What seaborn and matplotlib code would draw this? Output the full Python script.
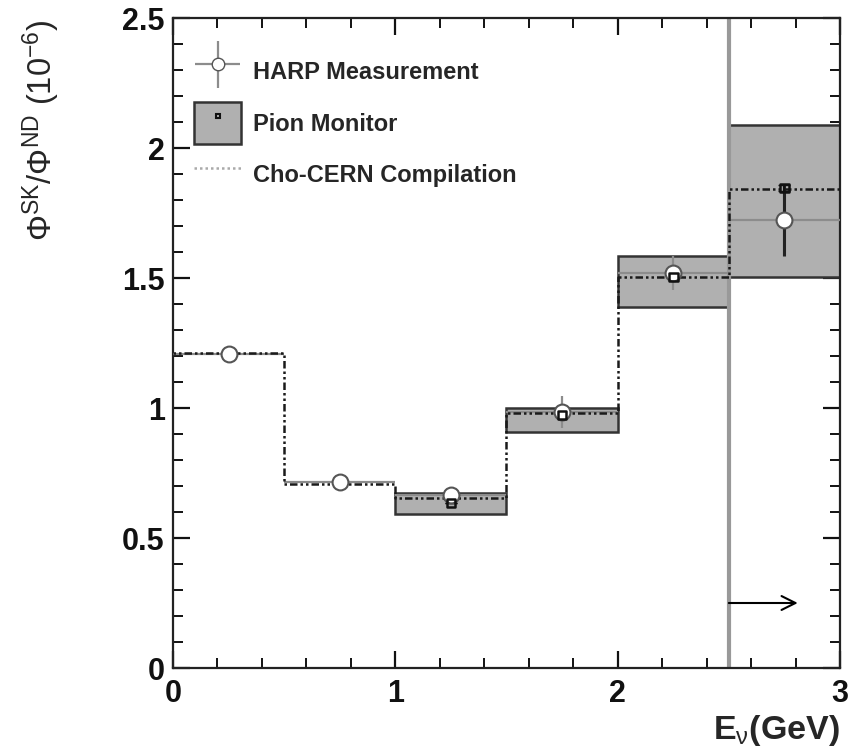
import numpy as np
import matplotlib
matplotlib.use("Agg")
import matplotlib.pyplot as plt
import seaborn as sns
from matplotlib.lines import Line2D
from matplotlib.patches import Patch
from matplotlib.legend_handler import HandlerErrorbar
from matplotlib.container import ErrorbarContainer

# ---------------- data ----------------
bin_edges = [0.0, 0.5, 1.0, 1.5, 2.0, 2.5, 3.0]
bin_centers = [0.25, 0.75, 1.25, 1.75, 2.25, 2.75]

harp_values = [1.208, 0.715, 0.665, 0.985, 1.520, 1.723]
harp_errors = [0.010, 0.010, 0.020, 0.060, 0.065, 0.140]

cho_cern_values = [1.210, 0.708, 0.654, 0.980, 1.504, 1.842]

pion_centers = [1.25, 1.75, 2.25, 2.75]
pion_values = [0.635, 0.973, 1.504, 1.846]
pion_errors = [0.0, 0.0, 0.0, 0.012]
pion_box_low = [0.592, 0.908, 1.388, 1.504]
pion_box_high = [0.673, 1.000, 1.585, 2.088]

cut_energy = 2.5
arrow_y = 0.25
arrow_end = 2.81

# ---------------- style ----------------
sns.set_style("ticks")
plt.rcParams['font.family'] = ['Liberation Sans', 'DejaVu Sans']
plt.rcParams['mathtext.fontset'] = 'custom'
plt.rcParams['mathtext.rm'] = 'Liberation Sans'
plt.rcParams['mathtext.it'] = 'Liberation Sans'
plt.rcParams['mathtext.bf'] = 'Liberation Sans:bold'

fig = plt.figure(figsize=(8.54, 7.54), dpi=100)
ax = fig.add_axes([173 / 854, (754 - 668) / 754, (840 - 173) / 854, (668 - 18) / 754])

# Pion monitor boxes
box_widths = [0.5] * len(pion_centers)
box_heights = [h - l for h, l in zip(pion_box_high, pion_box_low)]
ax.bar(pion_centers, box_heights, width=box_widths, bottom=pion_box_low,
       color='#b0b0b0', edgecolor='#333333', linewidth=1.8, zorder=1)

# cut line
ax.axvline(cut_energy, color='#999999', lw=3, zorder=2)

# Cho-CERN compilation step line
step_x = bin_edges
step_y = cho_cern_values + [cho_cern_values[-1]]
sns.lineplot(x=step_x, y=step_y, ax=ax, drawstyle='steps-post', color='#1a1a1a',
             lw=1.8, linestyle=(0, (1, 1.2, 1, 1.2, 3, 1.2)), zorder=4, sort=False,
             estimator=None)

# HARP measurement (grey bars + open circle)
ax.errorbar(bin_centers, harp_values, xerr=0.25, yerr=harp_errors, fmt='none',
            ecolor='#8c8c8c', elinewidth=1.6, zorder=3)
ax.errorbar([bin_centers[-1]], [harp_values[-1]], yerr=[harp_errors[-1]], fmt='none',
            ecolor='#222222', elinewidth=2.2, zorder=3)
sns.scatterplot(x=bin_centers, y=harp_values, ax=ax, marker='o', s=130,
                facecolor='white', edgecolor='#555555', linewidth=1.5, zorder=6)

# Pion monitor markers
ax.errorbar(pion_centers, pion_values, yerr=pion_errors, fmt='none', ecolor='#111111',
            elinewidth=1.5, capsize=4, zorder=5)
sns.scatterplot(x=pion_centers, y=pion_values, ax=ax, marker='s', s=40,
                facecolor='none', edgecolor='#111111', linewidth=1.8, zorder=7)

# arrow
ax.annotate('', xy=(arrow_end, arrow_y), xytext=(cut_energy, arrow_y),
            arrowprops=dict(arrowstyle='->', color='black', lw=1.5,
                            mutation_scale=25, shrinkA=0, shrinkB=0), zorder=8)

# axes
ax.set_xlim(0, 3)
ax.set_ylim(0, 2.5)
ax.set_xticks([0, 1, 2, 3])
ax.set_xticks(np.arange(0, 3.01, 0.2), minor=True)
ax.set_yticks([0, 0.5, 1, 1.5, 2, 2.5])
ax.set_yticks(np.arange(0, 2.51, 0.1), minor=True)
ax.set_xticklabels(['0', '1', '2', '3'])
ax.set_yticklabels(['0', '0.5', '1', '1.5', '2', '2.5'])
ax.tick_params(which='both', direction='in', top=True, right=True, colors='#111111')
ax.tick_params(which='major', length=12, width=1.6, labelsize=22)
ax.tick_params(axis='y', which='major', pad=6)
ax.tick_params(axis='x', which='major', pad=8)
ax.tick_params(which='minor', length=7, width=1.4)
for lab in ax.get_xticklabels() + ax.get_yticklabels():
    lab.set_fontweight('bold')
for sp in ax.spines.values():
    sp.set_linewidth(1.6)
    sp.set_color('#222222')

ax.set_xlabel(r'E$_{\nu}$(GeV)', fontsize=24.5, fontweight='bold', loc='right')
ax.xaxis.set_label_coords(1.0, -0.07)
ax.set_ylabel(r'$\Phi^{SK}/\Phi^{ND}$ (10$^{-6}$)', fontsize=23.5, loc='top')
ax.yaxis.set_label_coords(-0.166, 0.997)

# legend
harp_handle = ax.errorbar([], [], xerr=[], yerr=[], fmt='o', ms=9, mfc='white',
                          mec='#555555', ecolor='#8c8c8c', color='#8c8c8c', elinewidth=1.6)
pion_handle = (Patch(facecolor='#b0b0b0', edgecolor='#333333', linewidth=1.8),
               Line2D([], [], marker='s', ms=3, mfc='none', mec='#111111', ls='none', mew=1.5))
cho_handle = Line2D([], [], color='#aaaaaa', lw=1.8, linestyle=(0, (1, 1.2)))
leg = ax.legend([harp_handle, pion_handle, cho_handle],
                ['HARP Measurement', 'Pion Monitor', 'Cho-CERN Compilation'],
                loc='upper left', bbox_to_anchor=(0.0, 0.983), frameon=False,
                prop={'family': 'Liberation Sans', 'weight': 'bold', 'size': 17},
                handlelength=2.0, handleheight=2.36, labelspacing=0.42, handletextpad=0.5,
                handler_map={ErrorbarContainer: HandlerErrorbar(xerr_size=0.95, yerr_size=1.0)})

fig.savefig('out.png', dpi=100)
